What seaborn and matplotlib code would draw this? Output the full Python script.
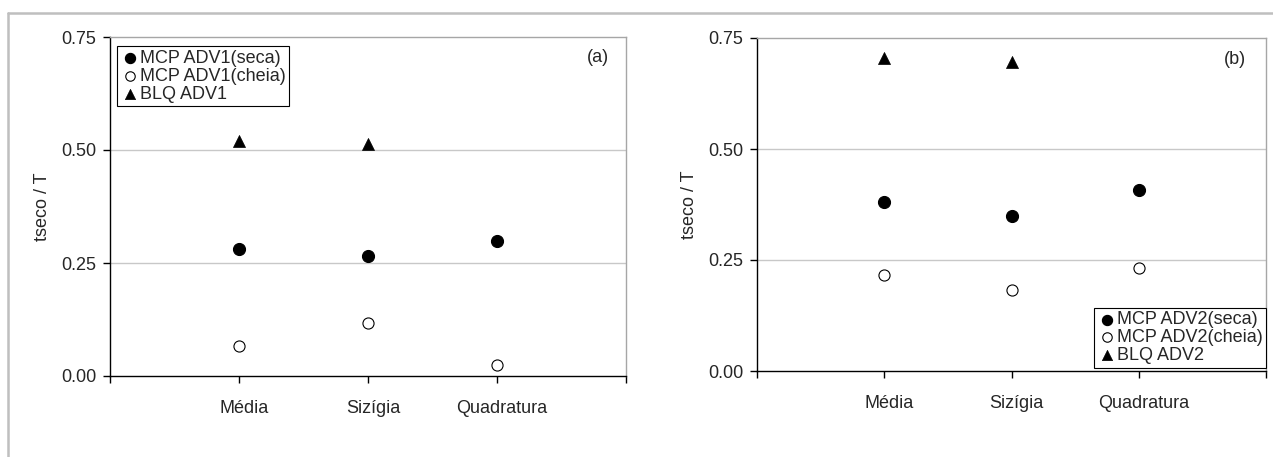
import matplotlib
matplotlib.use("Agg")
import matplotlib.pyplot as plt
import matplotlib.transforms as mtransforms
from matplotlib.lines import Line2D
import seaborn as sns

# Tidal conditions along the x axis
categories = ["Média", "Sizígia", "Quadratura"]

# Panel (a): ADV1
adv1_seca = [0.281, 0.265, 0.298]
adv1_cheia = [0.066, 0.117, 0.025]
adv1_blq = [0.521, 0.513]          # no BLQ value for Quadratura

# Panel (b): ADV2
adv2_seca = [0.381, 0.349, 0.407]
adv2_cheia = [0.216, 0.183, 0.232]
adv2_blq = [0.706, 0.697]

y_ticks = [0.0, 0.25, 0.50, 0.75]
y_ticklabels = ["0.00", "0.25", "0.50", "0.75"]

sns.set_theme(style="white")
plt.rcParams["font.family"] = ["Liberation Sans", "DejaVu Sans"]

W, H = 1273, 457
fig = plt.figure(figsize=(W / 100, H / 100), dpi=100)

ax_a = fig.add_axes([110 / W, 1 - 376 / H, 516 / W, 339 / H])
ax_b = fig.add_axes([757 / W, 1 - 371 / H, 509 / W, 333 / H])

GRID = "#c8c8c8"
FRAME = "#a6a6a6"
FS = 13


def draw_panel(ax, seca, cheia, blq, tag, legend_kw):
    sns.scatterplot(x=categories, y=seca, ax=ax, marker="o", s=75,
                    color="black", edgecolor="black", linewidth=0.8,
                    label=f"MCP {tag}(seca)", zorder=3)
    sns.scatterplot(x=categories, y=cheia, ax=ax, marker="o", s=64,
                    color="white", edgecolor="black", linewidth=0.8,
                    label=f"MCP {tag}(cheia)", zorder=3)
    sns.scatterplot(x=categories[:len(blq)], y=blq, ax=ax, marker="^", s=75,
                    color="black", edgecolor="black", linewidth=0.5,
                    label=f"BLQ {tag}", zorder=3)

    ax.set_xlim(-1, 3)
    ax.set_ylim(0, 0.75)
    ax.set_yticks(y_ticks)
    ax.set_yticklabels(y_ticklabels)
    ax.set_xticks(range(len(categories)))
    ax.set_xticklabels(categories)
    ax.set_xticks([-1, 3], minor=True)
    ax.set_xlabel("")
    ax.set_ylabel("tseco / T", fontsize=FS, labelpad=7)

    for y in (0.25, 0.50):
        ax.axhline(y, color=GRID, lw=1, zorder=1)

    ax.spines["left"].set_color("black")
    ax.spines["bottom"].set_color("black")
    ax.spines["top"].set_color(FRAME)
    ax.spines["right"].set_color(FRAME)
    for s in ax.spines.values():
        s.set_linewidth(1.0)
        s.set_visible(True)

    ax.tick_params(axis="y", which="major", direction="out", length=5,
                   width=1, color="black", labelsize=FS, pad=5,
                   left=True)
    ax.tick_params(axis="x", which="both", direction="out", length=5,
                   width=1, color="black", labelsize=FS, pad=12,
                   bottom=True)
    ax.tick_params(axis="x", which="minor", labelbottom=False)
    offset = mtransforms.ScaledTranslation(5 / 100, 0, fig.dpi_scale_trans)
    for lbl in ax.get_xticklabels():
        lbl.set_transform(lbl.get_transform() + offset)

    leg = ax.legend(frameon=True, fancybox=False, framealpha=1,
                    edgecolor="black", fontsize=FS, borderaxespad=0,
                    labelspacing=0.05, handletextpad=0.05, handlelength=1.0,
                    borderpad=0.2, markerscale=0.85, **legend_kw)
    leg.get_frame().set_linewidth(0.8)


draw_panel(ax_a, adv1_seca, adv1_cheia, adv1_blq, "ADV1",
           dict(loc="upper left", bbox_to_anchor=(0.0136, 0.973)))
ax_a.text(0.946, 0.941, "(a)", transform=ax_a.transAxes, ha="center",
          va="center", fontsize=FS)

draw_panel(ax_b, adv2_seca, adv2_cheia, adv2_blq, "ADV2",
           dict(loc="lower right", bbox_to_anchor=(1.0, 0.01)))
ax_b.text(0.939, 0.934, "(b)", transform=ax_b.transAxes, ha="center",
          va="center", fontsize=FS)

# Light outer frame around the figure
fig.add_artist(Line2D([8 / W, 1], [1 - 13 / H, 1 - 13 / H],
                      transform=fig.transFigure, color="#bfbfbf", lw=1.8))
fig.add_artist(Line2D([8 / W, 8 / W], [0, 1 - 13 / H],
                      transform=fig.transFigure, color="#bfbfbf", lw=1.8))

fig.savefig("out.png", dpi=100)
